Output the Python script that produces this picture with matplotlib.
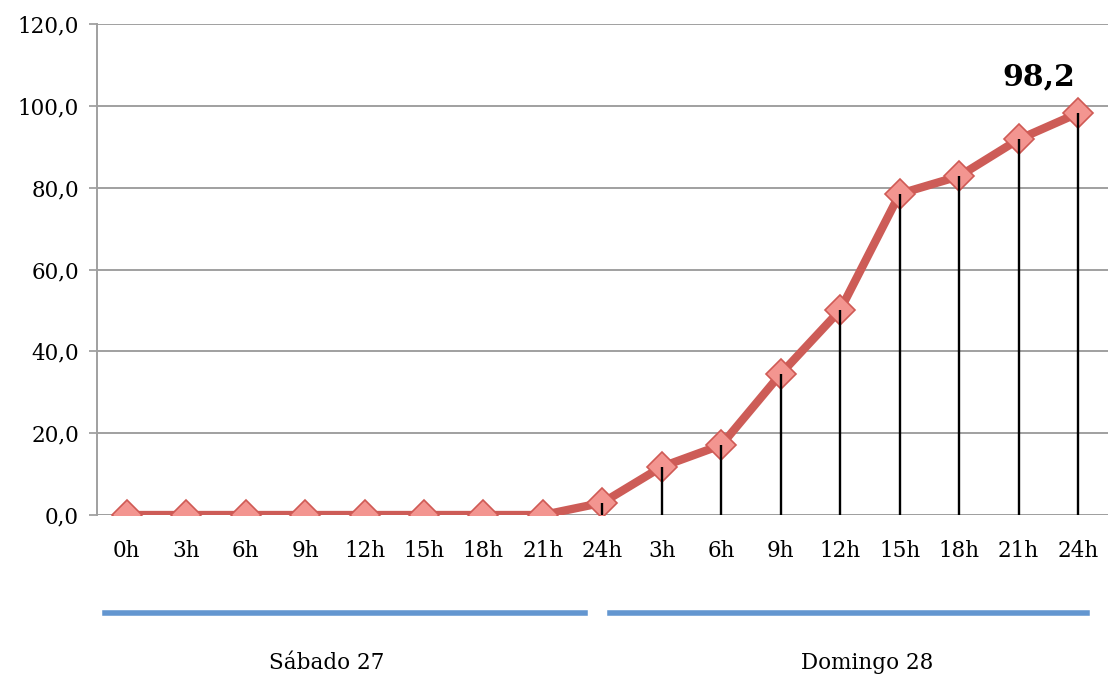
import matplotlib
matplotlib.use('Agg')
import matplotlib.pyplot as plt
from matplotlib.lines import Line2D
import numpy as np

plt.rcParams['font.family'] = ['DejaVu Serif']

horas = ['0h', '3h', '6h', '9h', '12h', '15h', '18h', '21h', '24h',
         '3h', '6h', '9h', '12h', '15h', '18h', '21h', '24h']
valores = [0.0, 0.0, 0.0, 0.0, 0.0, 0.0, 0.0, 0.0, 3.0,
           11.8, 17.1, 34.5, 50.1, 78.5, 82.8, 91.8, 98.2]
dias = ['Sábado 27', 'Domingo 28']
y_ticks = [0, 20, 40, 60, 80, 100, 120]

x = np.arange(len(horas))

fig = plt.figure(figsize=(11.1, 6.78), dpi=100)
ax = fig.add_axes([0.0874, 0.2404, 0.9106, 0.7242])

ax.set_xlim(-0.5, len(horas) - 0.5)
ax.set_ylim(0, 120)
ax.set_yticks(y_ticks)
ax.set_yticklabels([f'{v:.1f}'.replace('.', ',') for v in y_ticks], fontsize=15.5)
ax.set_xticks(x)
ax.set_xticklabels(horas, fontsize=15.5)
ax.tick_params(axis='x', length=0, pad=18)
ax.tick_params(axis='y', length=6, width=1.3, color='#A0A0A0', pad=7)

ax.yaxis.grid(True, color='#A0A0A0', linewidth=1.4)
ax.set_axisbelow(True)
for s in ['top', 'right', 'bottom']:
    ax.spines[s].set_visible(False)
ax.spines['left'].set_color('#A0A0A0')
ax.spines['left'].set_linewidth(1.4)
ax.axhline(0, color='#A0A0A0', linewidth=1.4, zorder=1)

# serie
ax.plot(x, valores, color='#CD5C57', linewidth=6, zorder=3)
ax.plot(x, valores, linestyle='none', marker='D', markersize=15,
        markerfacecolor='#F39590', markeredgecolor='#CF5A55',
        markeredgewidth=1.2, zorder=4)

# lineas de caida
for xi, v in zip(x, valores):
    if v > 0:
        ax.vlines(xi, 0, v, color='black', linewidth=1.7, zorder=5)

ax.annotate('98,2', xy=(x[-1], valores[-1]), xytext=(-28, 16),
            textcoords='offset points', ha='center', va='bottom',
            fontsize=21.5, fontweight='bold')

# grupos de dias
for (x0, x1), nombre, xt in zip([(0.008, 0.483), (0.508, 0.979)], dias, [0.2275, 0.7616]):
    ax.add_line(Line2D([x0, x1], [-0.2, -0.2], transform=ax.transAxes,
                       color='#6396D0', linewidth=4, clip_on=False))
    ax.text(xt, -0.302, nombre, transform=ax.transAxes, ha='center',
            va='center', fontsize=15.5)

fig.savefig('out.png', dpi=100)
